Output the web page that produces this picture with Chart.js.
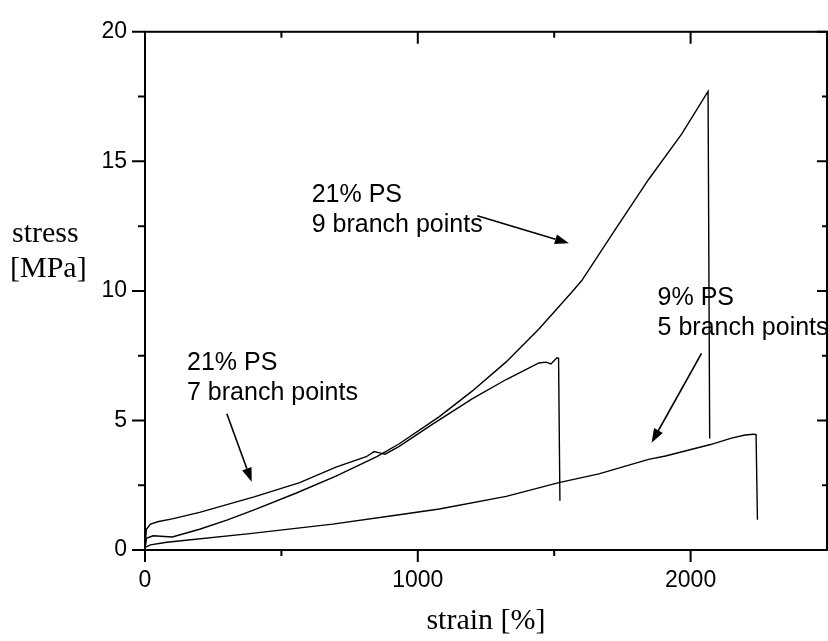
<!DOCTYPE html>
<html>
<head>
<meta charset="utf-8">
<script src="https://cdn.jsdelivr.net/npm/chart.js@4.4.1/dist/chart.umd.min.js"></script>
<style>
html, body { margin: 0; padding: 0; background: #fff; }
</style>
</head>
<body>
<canvas id="chart" width="828" height="641"></canvas>
<script>
// Dados (strain em %, stress em MPa)
const strainA = [0, 5, 30, 100, 200, 300, 400, 555, 700, 850, 932, 1079, 1199, 1324, 1444, 1565, 1601, 1726, 1846, 1967, 2064, 2070];
const stressA = [0, 0.45, 0.55, 0.5, 0.8, 1.15, 1.55, 2.2, 2.85, 3.6, 4.1, 5.15, 6.13, 7.26, 8.53, 9.96, 10.4, 12.4, 14.3, 16.05, 17.7, 4.3];

const strainB = [0, 5, 20, 50, 100, 200, 400, 567, 700, 811, 840, 860, 880, 932, 1053, 1199, 1324, 1444, 1470, 1488, 1510, 1516, 1521];
const stressB = [0, 0.8, 1.0, 1.1, 1.2, 1.45, 2.05, 2.6, 3.2, 3.6, 3.8, 3.75, 3.7, 4.0, 4.85, 5.83, 6.58, 7.22, 7.25, 7.18, 7.42, 7.4, 1.9];

const strainC = [0, 20, 80, 384, 688, 932, 1079, 1324, 1517, 1664, 1846, 1908, 2073, 2150, 2200, 2230, 2240, 2245];
const stressC = [0.1, 0.2, 0.3, 0.63, 1.0, 1.36, 1.58, 2.07, 2.6, 2.94, 3.5, 3.63, 4.07, 4.32, 4.44, 4.47, 4.45, 1.17];

const xMajorTicks = [0, 1000, 2000];
const xMinorTicks = [500, 1500];
const yMajorTicks = [0, 5, 10, 15, 20];
const yMinorTicks = [2.5, 7.5, 12.5, 17.5];

// Anotações (posições em unidades de dados)
const notes = [
  { lines: ['21% PS', '9 branch points'], at: [611, 13.42], arrow: [[1218, 12.9], [1554, 11.84]] },
  { lines: ['21% PS', '7 branch points'], at: [154, 6.95], arrow: [[300, 5.26], [391, 2.63]] },
  { lines: ['9% PS', '5 branch points'], at: [1879, 9.47], arrow: [[2040, 7.59], [1857, 4.14]] }
];

const sans = "'Liberation Sans', Arial, sans-serif";
const serif = "'Liberation Serif', 'Times New Roman', serif";

const toPoints = (xs, ys) => xs.map((x, i) => ({ x: x, y: ys[i] }));

const lineStyle = {
  borderColor: '#000',
  borderWidth: 1.4,
  pointRadius: 0,
  fill: false,
  tension: 0
};

// Moldura e marcas dos eixos
const framePlugin = {
  id: 'frame',
  afterDatasetsDraw(chart) {
    const { ctx, chartArea: a, scales } = chart;
    const xs = scales.x, ys = scales.y;
    ctx.save();
    ctx.strokeStyle = '#000';
    ctx.lineWidth = 2;
    ctx.strokeRect(a.left, a.top, a.right - a.left, a.bottom - a.top);
    ctx.beginPath();
    const xt = (v, len) => {
      const p = xs.getPixelForValue(v);
      ctx.moveTo(p, a.bottom); ctx.lineTo(p, a.bottom + len);
      ctx.moveTo(p, a.top); ctx.lineTo(p, a.top + len);
    };
    const yt = (v, lenL, lenR) => {
      const p = ys.getPixelForValue(v);
      ctx.moveTo(a.left - lenL, p); ctx.lineTo(a.left, p);
      ctx.moveTo(a.right - lenR, p); ctx.lineTo(a.right, p);
    };
    xMajorTicks.forEach(v => xt(v, 12));
    xMinorTicks.forEach(v => xt(v, 6));
    yMajorTicks.forEach(v => yt(v, 13, 10));
    yMinorTicks.forEach(v => yt(v, 7, 5));
    ctx.stroke();
    ctx.restore();
  },
  afterDraw(chart) {
    const { ctx, scales } = chart;
    const xs = scales.x, ys = scales.y;
    ctx.save();
    ctx.fillStyle = '#000';
    ctx.strokeStyle = '#000';
    // título do eixo y
    ctx.font = '30px ' + serif;
    ctx.textBaseline = 'alphabetic';
    ctx.textAlign = 'left';
    ctx.fillText('stress', 12, 242);
    ctx.fillText('[MPa]', 10, 277);
    // anotações
    ctx.font = '25px ' + sans;
    notes.forEach(n => {
      const tx = xs.getPixelForValue(n.at[0]);
      const ty = ys.getPixelForValue(n.at[1]);
      n.lines.forEach((t, i) => ctx.fillText(t, tx, ty + i * 30));
      const x0 = xs.getPixelForValue(n.arrow[0][0]);
      const y0 = ys.getPixelForValue(n.arrow[0][1]);
      const x1 = xs.getPixelForValue(n.arrow[1][0]);
      const y1 = ys.getPixelForValue(n.arrow[1][1]);
      const ang = Math.atan2(y1 - y0, x1 - x0);
      const hl = 14, hw = 5;
      ctx.lineWidth = 1.6;
      ctx.beginPath();
      ctx.moveTo(x0, y0);
      ctx.lineTo(x1 - hl * Math.cos(ang), y1 - hl * Math.sin(ang));
      ctx.stroke();
      ctx.beginPath();
      ctx.moveTo(x1, y1);
      ctx.lineTo(x1 - hl * Math.cos(ang) + hw * Math.sin(ang), y1 - hl * Math.sin(ang) - hw * Math.cos(ang));
      ctx.lineTo(x1 - hl * Math.cos(ang) - hw * Math.sin(ang), y1 - hl * Math.sin(ang) + hw * Math.cos(ang));
      ctx.closePath();
      ctx.fill();
    });
    ctx.restore();
  }
};

new Chart(document.getElementById('chart'), {
  type: 'line',
  data: {
    datasets: [
      Object.assign({ label: '21% PS, 9 branch points', data: toPoints(strainA, stressA) }, lineStyle),
      Object.assign({ label: '21% PS, 7 branch points', data: toPoints(strainB, stressB) }, lineStyle),
      Object.assign({ label: '9% PS, 5 branch points', data: toPoints(strainC, stressC) }, lineStyle)
    ]
  },
  options: {
    responsive: false,
    animation: false,
    layout: { padding: { top: 18, right: 1, left: 0, bottom: 0 } },
    plugins: {
      legend: { display: false },
      tooltip: { enabled: false }
    },
    scales: {
      x: {
        type: 'linear',
        min: 0,
        max: 2500,
        afterFit: s => { s.height = 91; },
        afterBuildTicks: s => { s.ticks = xMajorTicks.map(v => ({ value: v })); },
        grid: { display: false, drawTicks: false },
        border: { display: false },
        ticks: {
          color: '#000',
          font: { family: sans, size: 23 },
          padding: 17,
          maxRotation: 0,
          callback: v => String(v)
        },
        title: {
          display: true,
          text: 'strain [%]',
          color: '#000',
          font: { family: serif, size: 30 },
          padding: { top: 0, bottom: 2 }
        }
      },
      y: {
        type: 'linear',
        min: 0,
        max: 20,
        afterFit: s => { s.width = 145; },
        afterBuildTicks: s => { s.ticks = yMajorTicks.map(v => ({ value: v })); },
        grid: { display: false, drawTicks: false },
        border: { display: false },
        ticks: {
          color: '#000',
          font: { family: sans, size: 23 },
          padding: 18,
          callback: v => String(v)
        }
      }
    }
  },
  plugins: [framePlugin]
});
</script>
</body>
</html>
